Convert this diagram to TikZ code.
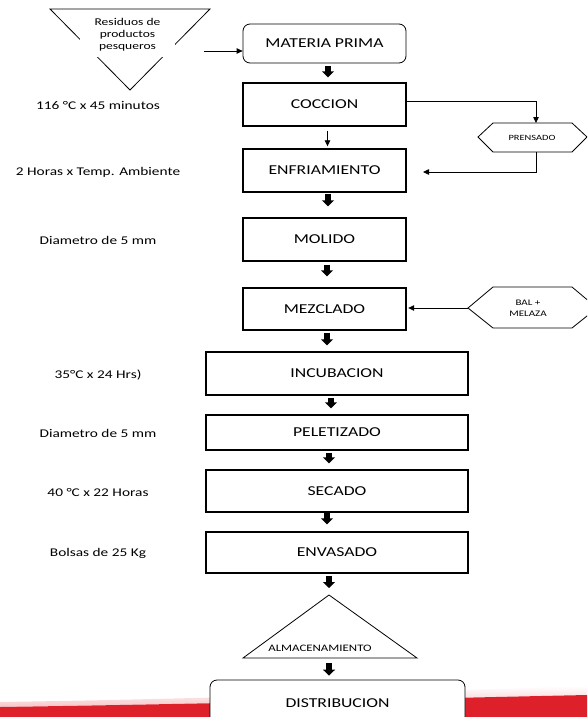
\documentclass[tikz,border=0pt]{standalone}
\usepackage{fontspec}
\setmainfont{Carlito}[FakeStretch=1.3]
\usetikzlibrary{arrows.meta}
\definecolor{bandred}{RGB}{222,32,42}
\begin{document}
\begin{tikzpicture}[x=1pt,y=-1pt,
  box/.style={draw, line width=1.4pt, fill=white, minimum width=163pt, minimum height=43pt, inner sep=0pt, font=\fontsize{13.6}{15}\selectfont},
  wbox/.style={box, minimum width=262pt},
  rbox/.style={box, line width=0.8pt, rounded corners=7pt},
  lab/.style={inner sep=0pt, font=\fontsize{11.8}{14}\selectfont},
  blk/.style={line width=5.5pt, -{Triangle[width=12pt,length=6pt]}},
  arr/.style={line width=0.8pt, -{Triangle[width=5.5pt,length=6pt]}},
  shp/.style={line width=0.8pt}
]
\useasboundingbox (0,0) rectangle (587,717);
\clip (0,0) rectangle (587,717);

% red band at the bottom
\shade[top color=white, bottom color=bandred!25, draw=none]
  (0,702) .. controls (200,699) and (400,692) .. (587,686) -- (587,695)
  .. controls (400,699) and (200,704) .. (0,707) -- cycle;
\fill[bandred] (0,707) .. controls (200,704) and (400,699) .. (587,695)
  -- (587,717) -- (0,717) -- cycle;

% input triangle
\draw[shp] (50,9) -- (210,9) -- (130,90) -- cycle;
\node[fill=white, minimum width=95pt, minimum height=44pt, inner sep=0pt, align=center,
      font=\fontsize{10.4}{12}\selectfont] (res) at (127.5,35) {Residuos de\\productos\\pesqueros};
\coordinate (in) at (204,51);

% main boxes
\node[rbox, minimum height=39pt] (mp) at (324.5,43.5) {MATERIA PRIMA};
\node[box] (coc) at (324.5,104.5) {COCCION};
\node[box] (enf) at (324.5,170.5) {ENFRIAMIENTO};
\node[box] (mol) at (324.5,239.5) {MOLIDO};
\node[box, minimum height=42pt] (mez) at (324.5,309) {MEZCLADO};
\node[wbox] (inc) at (337,373.5) {INCUBACION};
\node[wbox, minimum height=35pt] (pel) at (337,432.5) {PELETIZADO};
\node[wbox, minimum height=42pt] (sec) at (337,491) {SECADO};
\node[wbox, minimum height=41pt] (env) at (337,552.5) {ENVASADO};
\node[rbox, minimum width=255pt, minimum height=46pt] (dis) at (337.5,703) {DISTRIBUCION};

% storage triangle
\coordinate (almTop) at (329,595);
\coordinate (almB) at (329,658);
\draw[shp] (almTop) -- (417,658) -- (243,658) -- cycle;
\node[fill=white, inner sep=1pt, font=\fontsize{9.9}{11}\selectfont] (alm) at (320,648) {ALMACENAMIENTO};

% side hexagons
\coordinate (prT) at (536,123);
\coordinate (prB) at (536,152);
\draw[shp] (478,137) -- (493,123) -- (572,123) -- (587,137) -- (572,152) -- (493,152) -- cycle;
\node[inner sep=0pt, font=\fontsize{8}{9}\selectfont] (pren) at (532,138) {PRENSADO};
\coordinate (enfIn) at (423,172);

\coordinate (balW) at (468,308);
\draw[shp] (balW) -- (493,287) -- (572,287) -- (597,308) -- (572,328) -- (493,328) -- cycle;
\node[inner sep=0pt, align=center, font=\fontsize{8.5}{11}\selectfont] (bal) at (528,308) {BAL +\\MELAZA};

% left labels
\node[lab] (l1) at (98,105) {116 °C x 45 minutos};
\node[lab] (l2) at (98,172) {2 Horas x Temp. Ambiente};
\node[lab] (l3) at (98,240) {Diametro de 5 mm};
\node[lab] (l4) at (98,375) {35°C x 24 Hrs)};
\node[lab] (l5) at (98,433) {Diametro de 5 mm};
\node[lab] (l6) at (98,493) {40 °C x 22 Horas};
\node[lab] (l7) at (98,553) {Bolsas de 25 Kg};

% thin connectors
\draw[arr] (in) -- (in -| mp.west);
\draw[arr, shorten <=4pt, shorten >=2pt] ([xshift=3pt]coc.south) -- ([xshift=3pt]coc.south |- enf.north);
\draw[arr] ([yshift=3.5pt]coc.east) -| (prT);
\draw[arr] (prB) |- (enfIn);
\draw[arr, shorten >=1.5pt] (balW) -- (balW -| mez.east);

% block arrows
\draw[blk, shorten <=3pt, shorten >=5pt] ([xshift=3.5pt]mp.south) -- ([xshift=3.5pt]mp.south |- coc.north);
\draw[blk, shorten <=1pt, shorten >=11pt] ([xshift=3.5pt]enf.south) -- ([xshift=3.5pt]enf.south |- mol.north);
\draw[blk, shorten <=3pt, shorten >=11pt] ([xshift=2.5pt]mol.south) -- ([xshift=2.5pt]mol.south |- mez.north);
\draw[blk, shorten <=2pt, shorten >=6pt] ([xshift=2.5pt]mez.south) -- ([xshift=2.5pt]mez.south |- inc.north);
\draw[blk, shorten <=2pt, shorten >=6pt] ([xshift=-6pt]inc.south) -- ([xshift=-6pt]inc.south |- pel.north);
\draw[blk, shorten <=2pt, shorten >=6pt] ([xshift=-8pt]pel.south) -- ([xshift=-8pt]pel.south |- sec.north);
\draw[blk, shorten <=0.5pt, shorten >=7pt] ([xshift=-10pt]sec.south) -- ([xshift=-10pt]sec.south |- env.north);
\draw[blk, shorten <=2pt, shorten >=7pt] ([xshift=-8pt]env.south) -- (almTop);
\draw[blk, shorten <=5pt, shorten >=4pt] (almB) -- (almB |- dis.north);
\end{tikzpicture}
\end{document}
